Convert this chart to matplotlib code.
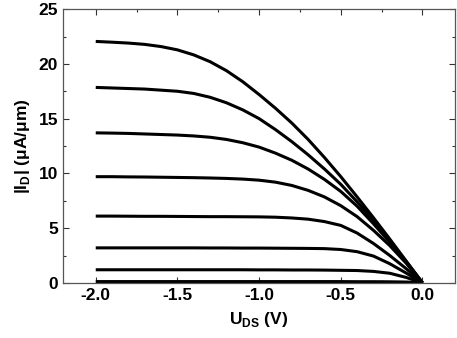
import matplotlib
matplotlib.use('Agg')
import matplotlib.pyplot as plt
from matplotlib.ticker import MultipleLocator, FormatStrFormatter

plt.rcParams['font.family'] = ['Liberation Sans', 'DejaVu Sans']
plt.rcParams['font.weight'] = 'bold'
plt.rcParams['mathtext.fontset'] = 'custom'
plt.rcParams['mathtext.rm'] = 'Liberation Sans:bold'
plt.rcParams['mathtext.bf'] = 'Liberation Sans:bold'

# drain voltage (V)
u_ds = [-2.0, -1.9, -1.8, -1.7, -1.6, -1.5, -1.4, -1.3, -1.2, -1.1, -1.0,
        -0.9, -0.8, -0.7, -0.6, -0.5, -0.4, -0.3, -0.2, -0.1, -0.05, 0.0]

# |I_D| (uA/um), one curve per gate voltage
i_1 = [22.05, 21.98, 21.9, 21.78, 21.58, 21.28, 20.82, 20.2, 19.38, 18.37, 17.2,
       15.95, 14.6, 13.1, 11.45, 9.7, 7.85, 5.95, 4.0, 2.0, 1.0, 0.0]
i_2 = [17.85, 17.8, 17.75, 17.7, 17.6, 17.5, 17.3, 16.95, 16.45, 15.8, 15.0,
       14.0, 12.9, 11.7, 10.4, 9.0, 7.4, 5.7, 3.85, 1.95, 0.98, 0.0]
i_3 = [13.7, 13.68, 13.65, 13.6, 13.55, 13.5, 13.42, 13.3, 13.1, 12.8, 12.4,
       11.85, 11.2, 10.4, 9.45, 8.35, 7.0, 5.4, 3.7, 1.9, 0.95, 0.0]
i_4 = [9.7, 9.7, 9.68, 9.67, 9.65, 9.63, 9.61, 9.58, 9.54, 9.48, 9.38,
       9.2, 8.9, 8.45, 7.85, 7.05, 6.05, 4.8, 3.4, 1.8, 0.9, 0.0]
i_5 = [6.1, 6.1, 6.09, 6.08, 6.08, 6.07, 6.06, 6.05, 6.05, 6.04, 6.03,
       6.0, 5.93, 5.82, 5.6, 5.25, 4.55, 3.6, 2.5, 1.3, 0.65, 0.0]
i_6 = [3.2, 3.2, 3.2, 3.2, 3.2, 3.2, 3.2, 3.19, 3.19, 3.18, 3.18,
       3.17, 3.16, 3.15, 3.13, 3.05, 2.85, 2.45, 1.75, 0.9, 0.45, 0.0]
i_7 = [1.2, 1.2, 1.2, 1.2, 1.2, 1.2, 1.2, 1.2, 1.2, 1.2, 1.19,
       1.19, 1.18, 1.18, 1.17, 1.15, 1.13, 1.05, 0.88, 0.5, 0.25, 0.0]
i_8 = [0.12, 0.12, 0.12, 0.12, 0.12, 0.12, 0.12, 0.12, 0.12, 0.12, 0.12,
       0.12, 0.12, 0.12, 0.12, 0.12, 0.11, 0.11, 0.1, 0.08, 0.05, 0.0]

curves = [i_1, i_2, i_3, i_4, i_5, i_6, i_7, i_8]

fig = plt.figure(figsize=(4.57, 3.38), dpi=100)
ax = fig.add_axes([0.138, 0.163, 0.858, 0.810])

for c in curves:
    ax.plot(u_ds, c, color='black', lw=2.2, solid_joinstyle='round', solid_capstyle='butt')

ax.set_xlim(-2.2, 0.2)
ax.set_ylim(0, 25)
ax.xaxis.set_major_locator(MultipleLocator(0.5))
ax.xaxis.set_minor_locator(MultipleLocator(0.25))
ax.yaxis.set_major_locator(MultipleLocator(5))
ax.yaxis.set_minor_locator(MultipleLocator(2.5))
ax.xaxis.set_major_formatter(FormatStrFormatter('%.1f'))

ax.tick_params(which='both', direction='in', top=True, right=True,
               width=0.8, colors='#333333', labelcolor='black', labelsize=12.5)
ax.tick_params(which='major', length=4)
ax.tick_params(which='minor', length=2.5)
for s in ax.spines.values():
    s.set_color('#555555')
    s.set_linewidth(0.9)

ax.set_xlabel(r'U$_{\rm DS}$ (V)', fontsize=12.5, fontweight='bold', labelpad=5)
ax.set_ylabel(r'|I$_{\rm D}$| (μA/μm)', fontsize=12.5, fontweight='bold', labelpad=5)

fig.savefig('out.png', dpi=100)
